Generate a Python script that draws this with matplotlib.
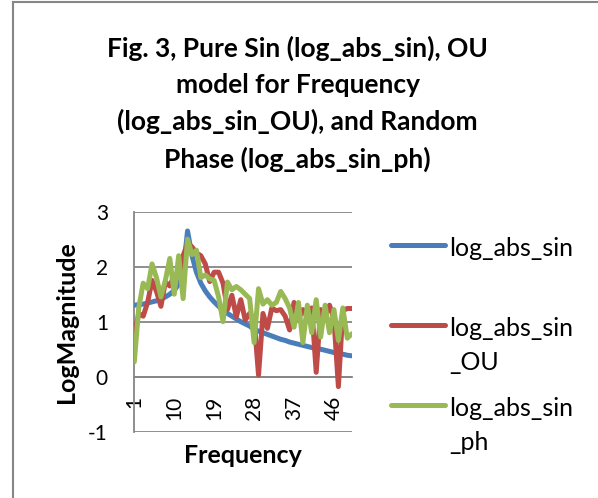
import matplotlib
matplotlib.use('Agg')
import matplotlib.pyplot as plt
from matplotlib.lines import Line2D
import numpy as np

# category axis 1..50
freq = list(range(1, 51))

log_abs_sin = [1.30, 1.31, 1.32, 1.34, 1.36, 1.38, 1.41, 1.45, 1.50, 1.57,
               1.68, 1.90, 2.65, 2.20, 1.90, 1.70, 1.56, 1.45, 1.36, 1.28,
               1.21, 1.15, 1.10, 1.05, 1.00, 0.96, 0.92, 0.86, 0.83, 0.80,
               0.77, 0.74, 0.71, 0.68, 0.66, 0.63, 0.61, 0.59, 0.57, 0.55,
               0.53, 0.52, 0.50, 0.48, 0.46, 0.44, 0.42, 0.41, 0.39, 0.38]

log_abs_sin_OU = [0.75, 1.15, 1.10, 1.35, 1.75, 1.55, 1.28, 1.72, 1.65, 1.85,
                  1.80, 2.20, 2.42, 2.36, 2.25, 2.20, 2.05, 1.73, 1.90, 1.90,
                  1.70, 1.22, 1.48, 1.09, 1.40, 1.03, 1.15, 1.05, 0.03, 1.15,
                  0.88, 1.25, 1.20, 1.22, 1.10, 0.85, 1.35, 1.05, 1.22, 1.08,
                  1.25, 0.08, 1.22, 1.10, 1.30, 1.05, -0.18, 1.20, 1.24, 1.24]

log_abs_sin_ph = [0.27, 1.25, 1.70, 1.60, 2.05, 1.80, 1.45, 1.75, 2.15, 1.50,
                  2.20, 1.42, 2.50, 2.22, 2.30, 1.80, 1.85, 1.78, 1.75, 1.45,
                  1.00, 1.72, 1.58, 1.64, 1.58, 1.50, 1.42, 0.62, 1.60, 1.32,
                  1.40, 1.30, 1.35, 1.55, 1.42, 1.25, 0.90, 1.35, 0.62, 1.30,
                  0.80, 1.40, 0.72, 1.30, 0.80, 1.22, 0.66, 1.25, 0.70, 0.78]

x_ticks = [1, 10, 19, 28, 37, 46]
y_ticks = [-1, 0, 1, 2, 3]

BLUE = '#4A7EBB'
RED = '#BE4B48'
GREEN = '#98B954'
GRID = '#868686'

plt.rcParams['font.family'] = ['Lato', 'DejaVu Sans']

fig = plt.figure(figsize=(5.98, 4.98), dpi=100)
fig.patch.set_facecolor('white')

# chart-area border (only top and left visible in the crop)
fig.add_artist(Line2D([13 / 598, 13 / 598], [0, 1 - 2.5 / 498], color=GRID, lw=1.5))
fig.add_artist(Line2D([13 / 598, 1], [1 - 2.5 / 498, 1 - 2.5 / 498], color=GRID, lw=1.5))

ax = fig.add_axes([134.3 / 598, 1 - 431.7 / 498, (351.7 - 134.3) / 598, (431.7 - 211.7) / 498])

ax.plot(freq, log_abs_sin, color=BLUE, lw=3.6, solid_capstyle='round', solid_joinstyle='round', zorder=3)
ax.plot(freq, log_abs_sin_OU, color=RED, lw=3.6, solid_capstyle='round', solid_joinstyle='round', zorder=4)
ax.plot(freq, log_abs_sin_ph, color=GREEN, lw=3.6, solid_capstyle='round', solid_joinstyle='round', zorder=5)

ax.set_xlim(1, 50)
ax.set_ylim(-1, 3)
ax.set_yticks(y_ticks)
ax.set_xticks(x_ticks)
ax.set_xticklabels([str(t) for t in x_ticks])
ax.set_yticklabels([str(t) for t in y_ticks])
ax.tick_params(axis='x', length=0, pad=14, labelrotation=90, labelsize=15)
ax.tick_params(axis='y', length=0, pad=19, labelsize=15)

ax.grid(axis='y', color=GRID, lw=1.3, zorder=1)
ax.set_axisbelow(True)
ax.spines['top'].set_visible(False)
ax.spines['right'].set_visible(False)
ax.spines['left'].set_color(GRID)
ax.spines['left'].set_linewidth(1.3)
ax.spines['bottom'].set_position(('data', 0))
ax.spines['bottom'].set_color(GRID)
ax.spines['bottom'].set_linewidth(1.3)

fig.text(66 / 598, 1 - 322 / 498, 'LogMagnitude', ha='center', va='center',
         rotation=90, fontsize=18, fontweight='bold')
fig.text(243 / 598, 1 - 455 / 498, 'Frequency', ha='center', va='center',
         fontsize=18, fontweight='bold')

# title
fig.text(0.498, 1 - 104 / 498,
         'Fig. 3, Pure Sin (log_abs_sin), OU\nmodel for Frequency\n'
         '(log_abs_sin_OU), and Random\nPhase (log_abs_sin_ph)',
         ha='center', va='center', multialignment='center',
         fontsize=19, fontweight='bold', linespacing=1.58)

# legend
legend_items = [('log_abs_sin', BLUE, 245), ('log_abs_sin\n_OU', RED, 325),
                ('log_abs_sin\n_ph', GREEN, 405)]
for label, color, ypx in legend_items:
    yf = 1 - ypx / 498
    fig.add_artist(Line2D([391 / 598, 445 / 598], [yf, yf], color=color, lw=3.6,
                          solid_capstyle='round'))
    for i, part in enumerate(label.split('\n')):
        fig.text(449 / 598, 1 - (ypx + 3 + i * 35) / 498, part, ha='left',
                 va='center', fontsize=18)

plt.savefig('out.png', dpi=100, facecolor='white')
